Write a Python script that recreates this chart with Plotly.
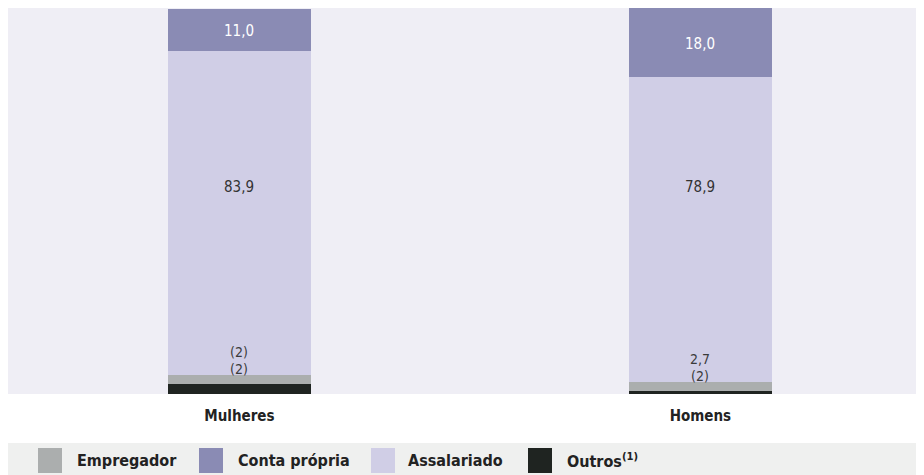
import plotly.graph_objects as go

# data
categories = ["Mulheres", "Homens"]
outros = [2.6, 0.7]
empregador = [2.3, 2.4]
assalariado = [83.9, 78.9]
conta_propria = [11.0, 18.0]

outros_text = ["(2)", "(2)"]
empregador_text = ["(2)", "2,7"]
assalariado_text = ["83,9", "78,9"]
conta_propria_text = ["11,0", "18,0"]

legend_names = ["Empregador", "Conta própria", "Assalariado", "Outros<sup>(1)</sup>"]

COLORS = {
    "outros": "#1f2421",
    "empregador": "#abaeae",
    "assalariado": "#d0cee6",
    "conta": "#8a8bb4",
}
FONT = "DejaVu Sans Condensed, Roboto, sans-serif"


def add_segment(fig, values, color, name):
    fig.add_trace(go.Bar(
        x=categories, y=values, name=name, width=0.31,
        marker=dict(color=color, line=dict(width=0)),
        hoverinfo="skip", showlegend=False,
    ))


fig = go.Figure()
add_segment(fig, outros, COLORS["outros"], "Outros")
add_segment(fig, empregador, COLORS["empregador"], "Empregador")
add_segment(fig, assalariado, COLORS["assalariado"], "Assalariado")
add_segment(fig, conta_propria, COLORS["conta"], "Conta própria")

annotations = []
for i, cat in enumerate(categories):
    small_top = outros[i] + empregador[i]
    assal_top = small_top + assalariado[i]
    # small segments get their labels stacked above them
    annotations.append(dict(x=cat, y=small_top, text=outros_text[i], yshift=6,
                            font=dict(family=FONT, size=14, color="#3a3a3a")))
    annotations.append(dict(x=cat, y=small_top, text=empregador_text[i], yshift=23,
                            font=dict(family=FONT, size=14, color="#3a3a3a")))
    annotations.append(dict(x=cat, y=53.6, text=assalariado_text[i],
                            font=dict(family=FONT, size=15, color="#333333")))
    annotations.append(dict(x=cat, y=(assal_top + 100) / 2, text=conta_propria_text[i],
                            yshift=-1, font=dict(family=FONT, size=15, color="#ffffff")))
for a in annotations:
    a.update(xref="x", yref="y", showarrow=False, yanchor="middle")

# legend band drawn by hand, like the original
shapes = [dict(type="rect", xref="paper", yref="paper", x0=0, x1=1,
               ysizemode="pixel", yanchor=0, y0=-81, y1=-49,
               fillcolor="#eff0ef", line=dict(width=0), layer="below")]
legend_colors = [COLORS["empregador"], COLORS["conta"], COLORS["assalariado"], COLORS["outros"]]
square_x = [30, 191, 363, 520]
text_x = [67, 228, 398, 557]
for name, color, sx, tx in zip(legend_names, legend_colors, square_x, text_x):
    shapes.append(dict(type="rect", xref="paper", yref="paper",
                       xsizemode="pixel", xanchor=0, x0=sx, x1=sx + 24,
                       ysizemode="pixel", yanchor=0, y0=-79, y1=-54,
                       fillcolor=color, line=dict(width=0)))
    annotations.append(dict(xref="paper", yref="paper", x=0, y=0, xshift=tx, yshift=-66,
                            xanchor="left", yanchor="middle", showarrow=False, text=name,
                            font=dict(family=FONT, size=16, color="#222222", weight="bold")))

fig.update_layout(
    barmode="stack",
    width=916, height=467,
    margin=dict(l=0, r=0, t=0, b=81),
    paper_bgcolor="#ffffff",
    plot_bgcolor="#efeef5",
    showlegend=False,
    annotations=annotations,
    shapes=shapes,
    xaxis=dict(range=[-0.502, 1.485], showgrid=False, zeroline=False, showline=False,
               ticks="", ticklabelstandoff=11,
               tickfont=dict(family=FONT, size=15, color="#222222", weight="bold")),
    yaxis=dict(range=[0, 100], showgrid=False, zeroline=False, showline=False,
               showticklabels=False),
)

fig.write_html("out.html")
